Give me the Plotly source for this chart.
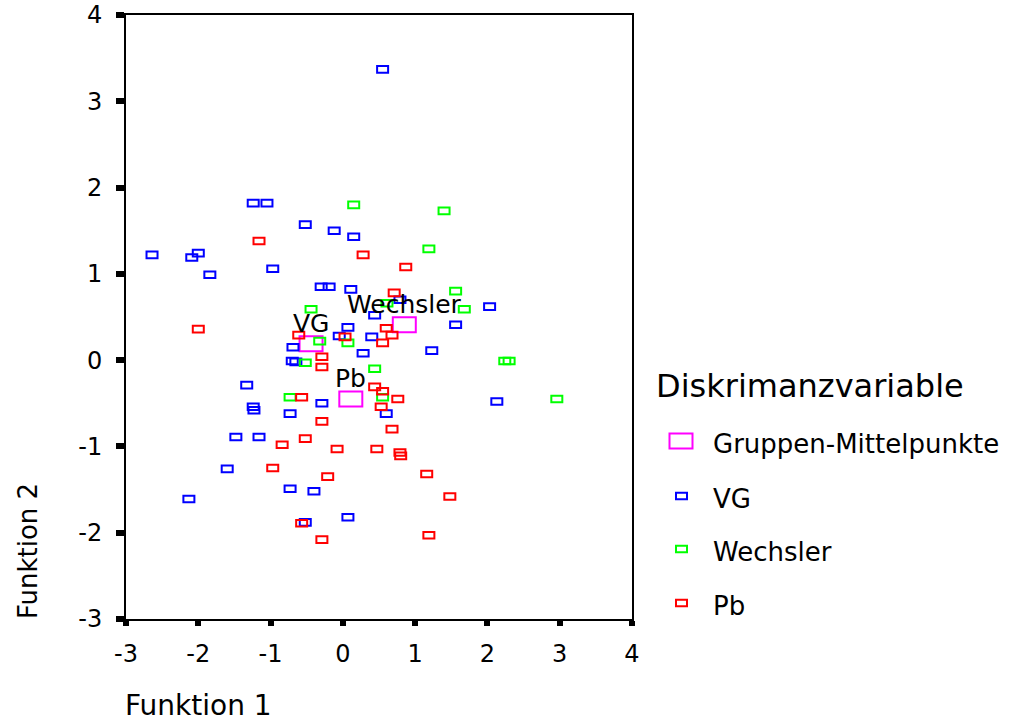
import plotly.graph_objects as go

# Discriminant scores per case: (Funktion 1, Funktion 2), one pair of lists per group
vg_f1 = [0.55, -1.24, -1.05, -0.52, -0.12, 0.15, -2.64, -2.09, -2.00, -1.84,
         -0.97, -0.30, -0.19, 0.11, 0.44, 0.79, 2.03, 1.56, 0.07, -0.05,
         0.40, -0.69, -0.70, -0.65, 0.28, 1.23, -1.33, -1.24, -1.23, -0.29,
         -0.73, 0.60, 2.13, -1.48, -1.16, -1.60, -0.73, -0.40, -2.13, -0.52, 0.07]
vg_f2 = [3.37, 1.82, 1.82, 1.57, 1.50, 1.43, 1.22, 1.19, 1.24, 0.99,
         1.06, 0.85, 0.85, 0.82, 0.52, 0.70, 0.62, 0.41, 0.38, 0.28,
         0.27, 0.15, -0.01, -0.02, 0.08, 0.11, -0.29, -0.54, -0.58, -0.50,
         -0.62, -0.62, -0.48, -0.89, -0.89, -1.26, -1.49, -1.52, -1.61, -1.88, -1.82]

wechsler_f1 = [0.15, 1.40, 1.19, 1.56, 1.68, 0.61, -0.44, -0.32, 0.07, -0.52,
               0.44, -0.73, 0.55, 2.24, 2.30, 2.96]
wechsler_f2 = [1.80, 1.73, 1.29, 0.80, 0.59, 0.66, 0.59, 0.22, 0.20, -0.03,
               -0.10, -0.43, -0.43, -0.01, -0.01, -0.45]

pb_f1 = [-1.16, 0.28, 0.87, 0.71, -2.00, -0.61, 0.03, 0.60, 0.68, 0.55,
         -0.29, -0.29, 0.44, 0.55, 0.76, -0.57, 0.53, -0.29, 0.68, -0.52,
         -0.84, -0.08, 0.47, 0.79, 0.80, -0.97, -0.21, 1.16, 1.48, -0.57,
         -0.29, 1.19]
pb_f2 = [1.38, 1.22, 1.08, 0.78, 0.36, 0.29, 0.27, 0.37, 0.29, 0.20,
         0.04, -0.08, -0.31, -0.36, -0.45, -0.43, -0.54, -0.71, -0.80, -0.91,
         -0.98, -1.03, -1.03, -1.07, -1.11, -1.25, -1.35, -1.32, -1.58, -1.89,
         -2.08, -2.03]

# Group centroids
centroid_names = ["VG", "Wechsler", "Pb"]
centroid_f1 = [-0.44, 0.85, 0.11]
centroid_f2 = [0.19, 0.41, -0.45]

axis_ticks = [-3, -2, -1, 0, 1, 2, 3, 4]
axis_tick_labels = ["-3", "-2", "-1", "0", "1", "2", "3", "4"]

legend_title = "Diskrimanzvariable"
legend_labels = ["Gruppen-Mittelpunkte", "VG", "Wechsler", "Pb"]

BLUE, GREEN, RED, MAGENTA = "#0000ff", "#00ff00", "#ff0000", "#ff00ff"
FONT = "DejaVu Sans"

W, H = 1013, 724
ML, MR, MT, MB = 126, 381, 15, 105
PW, PH = W - ML - MR, H - MT - MB


def paper_x(px):
    return (px - ML) / PW


def paper_y(py):
    return (H - MB - py) / PH


def box(x, y, color, half_w, half_h, xref="x", yref="y"):
    """Hollow rectangle of fixed pixel size centred on (x, y)."""
    return dict(type="rect", xref=xref, yref=yref,
                xsizemode="pixel", ysizemode="pixel",
                xanchor=x, yanchor=y,
                x0=-half_w, x1=half_w, y0=-half_h, y1=half_h,
                line=dict(color=color, width=2),
                fillcolor="rgba(0,0,0,0)", layer="above")


fig = go.Figure()

# Hover carriers for the cases (the visible marks are the rectangles below)
for name, xs, ys in [("VG", vg_f1, vg_f2), ("Wechsler", wechsler_f1, wechsler_f2),
                     ("Pb", pb_f1, pb_f2), ("Gruppen-Mittelpunkte", centroid_f1, centroid_f2)]:
    fig.add_trace(go.Scatter(x=xs, y=ys, mode="markers", name=name,
                             marker=dict(size=11, color="rgba(0,0,0,0)"),
                             showlegend=False))

shapes = []
# centroids first, then the groups in order
for cx, cy in zip(centroid_f1, centroid_f2):
    shapes.append(box(cx, cy, MAGENTA, 11.5, 7.5))
for xs, ys, col in [(vg_f1, vg_f2, BLUE), (wechsler_f1, wechsler_f2, GREEN),
                    (pb_f1, pb_f2, RED)]:
    for x, y in zip(xs, ys):
        shapes.append(box(x, y, col, 5.5, 3.3))

annotations = []
# centroid labels sit just above each centroid
for name, cx, cy in zip(centroid_names, centroid_f1, centroid_f2):
    annotations.append(dict(x=cx, y=cy, xref="x", yref="y", text=name,
                            showarrow=False, xanchor="center", yanchor="bottom",
                            yshift=4, font=dict(family=FONT, size=25, color="black")))

# legend block
annotations.append(dict(x=paper_x(654), y=paper_y(386), xref="paper", yref="paper",
                        text=legend_title, showarrow=False, xanchor="left",
                        yanchor="middle", font=dict(family=FONT, size=32, color="black")))
legend_rows = [441, 496, 549, 603]
legend_colors = [MAGENTA, BLUE, GREEN, RED]
for i, (label, col, ry) in enumerate(zip(legend_labels, legend_colors, legend_rows)):
    if i == 0:
        shapes.append(box(paper_x(681), paper_y(ry), col, 11.5, 7.5, "paper", "paper"))
    else:
        shapes.append(box(paper_x(681.5), paper_y(ry), col, 5.5, 3.3, "paper", "paper"))
    annotations.append(dict(x=paper_x(711), y=paper_y(ry + 3), xref="paper", yref="paper",
                            text=label, showarrow=False, xanchor="left", yanchor="middle",
                            font=dict(family=FONT, size=26, color="black")))

# axis titles
annotations.append(dict(x=paper_x(123), y=paper_y(724), xref="paper", yref="paper",
                        text="Funktion 1", showarrow=False, xanchor="left",
                        yanchor="bottom", font=dict(family=FONT, size=28, color="black")))
annotations.append(dict(x=paper_x(28), y=paper_y(621), xref="paper", yref="paper",
                        text="Funktion 2", showarrow=False, textangle=-90,
                        xanchor="center", yanchor="bottom",
                        font=dict(family=FONT, size=26, color="black")))

axis_common = dict(range=[-3, 4], tickvals=axis_ticks, ticktext=axis_tick_labels,
                   showgrid=False, zeroline=False, showline=True, linecolor="black",
                   linewidth=2, mirror=True, ticks="outside", tickcolor="black",
                   tickwidth=6, tickfont=dict(family=FONT, size=24, color="black"),
                   automargin=False, fixedrange=True)

fig.update_layout(
    width=W, height=H,
    margin=dict(l=ML, r=MR, t=MT, b=MB, pad=0, autoexpand=False),
    paper_bgcolor="white", plot_bgcolor="white",
    xaxis=dict(**axis_common, ticklen=5, ticklabelstandoff=7),
    yaxis=dict(**axis_common, ticklen=8, ticklabelstandoff=9),
    shapes=shapes, annotations=annotations,
    showlegend=False, hovermode="closest",
)

fig.write_html("out.html")
